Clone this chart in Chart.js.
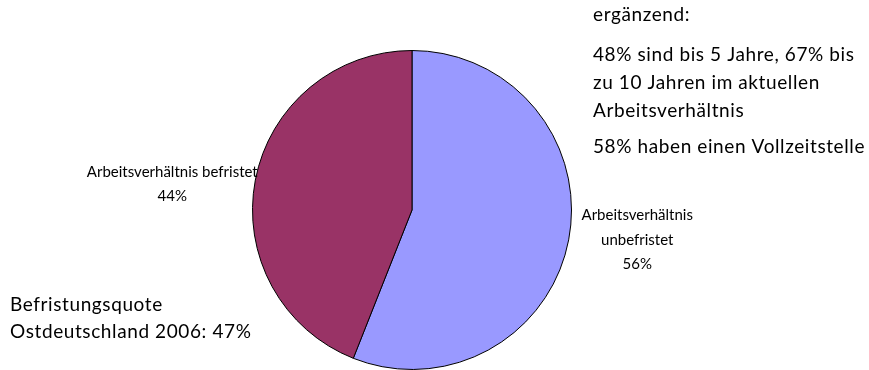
<!DOCTYPE html>
<html>
<head>
<meta charset="utf-8">
<script src="https://cdn.jsdelivr.net/npm/chart.js@4/dist/chart.umd.min.js"></script>
<style>
  html, body { margin: 0; padding: 0; background: #fff; overflow: hidden; }
  #wrap { width: 869px; height: 370px; }
</style>
</head>
<body>
<div id="wrap"><canvas id="chart1"></canvas></div>
<script>
const labels_pie = ['Arbeitsverhältnis unbefristet', 'Arbeitsverhältnis befristet'];
const data_pie = [56, 44];
const label_lines = [
  ['Arbeitsverhältnis', 'unbefristet', '56%'],
  ['Arbeitsverhältnis befristet', '44%']
];
const note_right = [
  'ergänzend:',
  '48% sind bis 5 Jahre, 67% bis',
  'zu 10 Jahren im aktuellen',
  'Arbeitsverhältnis',
  '58% haben einen Vollzeitstelle'
];
const note_left = ['Befristungsquote', 'Ostdeutschland 2006: 47%'];

const FONT = 'Lato, "DejaVu Sans", sans-serif';

// slice labels, placed along each slice's mid angle outside the pie
const sliceLabels = {
  id: 'sliceLabels',
  afterDatasetsDraw(chart) {
    const ctx = chart.ctx;
    const meta = chart.getDatasetMeta(0);
    const offs = [[1.4375, -13], [1.53, 20]];
    ctx.save();
    ctx.fillStyle = '#000';
    ctx.font = '15px ' + FONT;
    ctx.textAlign = 'center';
    ctx.textBaseline = 'middle';
    meta.data.forEach((arc, i) => {
      const mid = (arc.startAngle + arc.endAngle) / 2;
      const r = arc.outerRadius * offs[i][0];
      const x = arc.x + Math.cos(mid) * r;
      const y = arc.y + Math.sin(mid) * r + offs[i][1];
      const lines = label_lines[i];
      const lh = 24.5;
      const y0 = y - (lines.length - 1) * lh / 2;
      lines.forEach((t, k) => ctx.fillText(t, x, y0 + k * lh));
    });
    ctx.restore();
  }
};

const notes = {
  id: 'notes',
  afterDraw(chart) {
    const ctx = chart.ctx;
    ctx.save();
    ctx.fillStyle = '#000';
    ctx.font = '19px ' + FONT;
    ctx.letterSpacing = '0.6px';
    ctx.textAlign = 'left';
    ctx.textBaseline = 'middle';
    const ys = [15, 55, 83, 111, 147];
    note_right.forEach((t, k) => ctx.fillText(t, 593, ys[k]));
    const ys2 = [305, 332];
    note_left.forEach((t, k) => ctx.fillText(t, 10, ys2[k]));
    ctx.restore();
  }
};

const config = {
  type: 'pie',
  data: {
    labels: labels_pie,
    datasets: [{
      data: data_pie,
      backgroundColor: ['#9999FF', '#993366'],
      borderColor: '#000',
      borderWidth: 1
    }]
  },
  options: {
    responsive: true,
    maintainAspectRatio: false,
    animation: false,
    layout: { padding: { left: 252, right: 297, top: 50, bottom: 0 } },
    plugins: {
      legend: { display: false },
      tooltip: { enabled: false }
    }
  },
  plugins: [sliceLabels, notes]
};

const chart1 = new Chart(document.getElementById('chart1'), config);
</script>
</body>
</html>
